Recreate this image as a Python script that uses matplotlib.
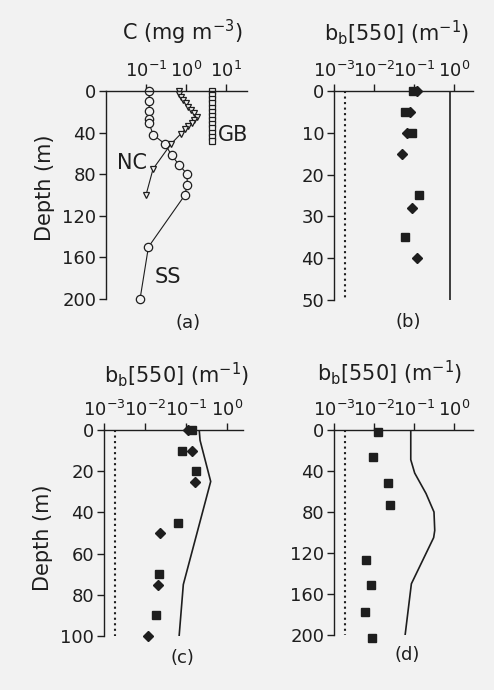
import matplotlib
matplotlib.use("Agg")
import matplotlib.pyplot as plt

# ---------------- data ----------------
# panel (a): chlorophyll profiles
ss_depth = [0, 10, 19, 27, 31, 42, 51, 62, 71, 80, 90, 100, 150, 200]
ss_chl = [0.12, 0.12, 0.12, 0.12, 0.12, 0.15, 0.30, 0.44, 0.67, 1.07, 1.07, 0.94, 0.115, 0.071]
nc_depth = [0, 3, 6, 9, 12, 15, 18, 21, 25, 28, 31, 34, 37, 41, 51, 75, 100]
nc_chl = [0.65, 0.68, 0.75, 0.85, 0.98, 1.15, 1.35, 1.55, 1.9, 1.6, 1.4, 1.15, 0.95, 0.75, 0.42, 0.15, 0.10]
gb_depth = [0, 4, 8, 12, 16, 20, 24, 28, 32, 36, 40, 44, 48]
gb_chl = [4.4] * 13

# panel (b)
b_sq_depth = [0, 5, 10, 25, 35]
b_sq_val = [0.095, 0.06, 0.09, 0.13, 0.06]
b_dia_depth = [0, 5, 10, 15, 28, 40]
b_dia_val = [0.12, 0.078, 0.067, 0.05, 0.087, 0.117]
b_line_depth = [0, 50]
b_line_val = [0.8, 0.8]
b_dot_depth = [0, 50]
b_dot_val = [0.0019, 0.0019]

# panel (c)
c_sq_depth = [0, 10, 20, 45, 70, 90]
c_sq_val = [0.138, 0.081, 0.18, 0.063, 0.022, 0.019]
c_dia_depth = [0, 10, 25, 50, 75, 100]
c_dia_val = [0.115, 0.143, 0.166, 0.023, 0.021, 0.0117]
c_line_depth = [0, 5, 25, 75, 100]
c_line_val = [0.21, 0.22, 0.40, 0.086, 0.068]
c_dot_depth = [0, 100]
c_dot_val = [0.0019, 0.0019]

# panel (d)
d_sq_depth = [2, 26, 52, 73, 127, 151, 178, 203]
d_sq_val = [0.0126, 0.0094, 0.023, 0.025, 0.0064, 0.0083, 0.006, 0.0091]
d_line_depth = [0, 29, 42, 62, 80, 98, 105, 150, 200]
d_line_val = [0.083, 0.083, 0.104, 0.2, 0.316, 0.33, 0.31, 0.086, 0.06]
d_dot_depth = [0, 200]
d_dot_val = [0.0019, 0.0019]

a_xticks = [0.1, 1, 10]
a_xticklabels = [r"$\mathregular{10^{-1}}$", r"$\mathregular{10^{0}}$", r"$\mathregular{10^{1}}$"]
bb_xticks = [0.001, 0.01, 0.1, 1]
bb_xticklabels = [r"$\mathregular{10^{-3}}$", r"$\mathregular{10^{-2}}$",
                  r"$\mathregular{10^{-1}}$", r"$\mathregular{10^{0}}$"]
a_yticks = [0, 40, 80, 120, 160, 200]
b_yticks = [0, 10, 20, 30, 40, 50]
c_yticks = [0, 20, 40, 60, 80, 100]
d_yticks = [0, 40, 80, 120, 160, 200]

# ---------------- style ----------------
W, H = 494, 690
BG = "#f2f2f2"
INK = "#1e1e1e"
plt.rcParams["font.family"] = ["DejaVu Sans"]
plt.rcParams["mathtext.fontset"] = "custom"
plt.rcParams["mathtext.rm"] = "DejaVu Sans"
plt.rcParams["text.color"] = INK

fig = plt.figure(figsize=(W / 100, H / 100), dpi=100, facecolor=BG)


def make_ax(left, top, right, bottom, xlim, ymax, xticks, xlabels, yticks):
    ax = fig.add_axes([left / W, 1 - bottom / H, (right - left) / W, (bottom - top) / H])
    ax.set_facecolor("none")
    ax.set_xscale("log")
    ax.set_xlim(*xlim)
    ax.set_ylim(ymax, 0)
    for s in ("right", "bottom"):
        ax.spines[s].set_visible(False)
    for s in ("top", "left"):
        ax.spines[s].set_linewidth(1.0)
        ax.spines[s].set_color(INK)
    ax.xaxis.tick_top()
    ax.set_xticks(xticks)
    ax.set_xticklabels(xlabels)
    ax.xaxis.set_minor_locator(matplotlib.ticker.NullLocator())
    ax.set_yticks(yticks)
    ax.tick_params(axis="x", direction="out", length=5, width=1.0, pad=2,
                   labelsize=13, colors=INK)
    ax.tick_params(axis="y", direction="out", length=5, width=1.0, pad=2,
                   labelsize=13, colors=INK)
    return ax


def px_text(x, y, s, size=15, **kw):
    fig.text(x / W, 1 - y / H, s, fontsize=size, ha="center", va="center", color=INK, **kw)


# panel (a)
axa = make_ax(106, 91, 247, 299, (0.01, 10 ** 1.525), 200, a_xticks, a_xticklabels, a_yticks)
axa.plot(ss_chl, ss_depth, "-o", color=INK, lw=0.8, ms=6, mfc=BG, mec=INK, mew=0.9, clip_on=False)
axa.plot(nc_chl, nc_depth, "-v", color=INK, lw=0.8, ms=5, mfc=BG, mec=INK, mew=0.9, clip_on=False)
axa.plot(gb_chl, gb_depth, "-s", color=INK, lw=0.8, ms=4, mfc=BG, mec=INK, mew=0.9, clip_on=False)
px_text(132, 163, "NC", 15)
px_text(233, 135, "GB", 15)
px_text(168, 277, "SS", 15)
px_text(182, 32, r"C (mg m$^{-3}$)", 15)
px_text(45, 188, "Depth (m)", 15, rotation=90)
px_text(188, 323, "(a)", 13)

# panel (b)
axb = make_ax(334, 91, 473, 300, (0.001, 10 ** 0.475), 50, bb_xticks, bb_xticklabels, b_yticks)
axb.plot(b_dot_val, b_dot_depth, ":", color=INK, lw=1.5)
axb.plot(b_line_val, b_line_depth, "-", color=INK, lw=1.2)
axb.plot(b_sq_val, b_sq_depth, "s", color=INK, ms=6, ls="none", clip_on=False)
axb.plot(b_dia_val, b_dia_depth, "D", color=INK, ms=5.5, ls="none", clip_on=False)
px_text(397, 33, r"b$_\mathregular{b}$[550] (m$^{-1}$)", 15)
px_text(408, 322, "(b)", 13)

# panel (c)
axc = make_ax(104, 430, 243, 636, (0.001, 10 ** 0.39), 100, bb_xticks, bb_xticklabels, c_yticks)
axc.plot(c_dot_val, c_dot_depth, ":", color=INK, lw=1.5)
axc.plot(c_line_val, c_line_depth, "-", color=INK, lw=1.2)
axc.plot(c_sq_val, c_sq_depth, "s", color=INK, ms=6, ls="none", clip_on=False)
axc.plot(c_dia_val, c_dia_depth, "D", color=INK, ms=5.5, ls="none", clip_on=False)
px_text(177, 375, r"b$_\mathregular{b}$[550] (m$^{-1}$)", 15)
px_text(43, 538, "Depth (m)", 15, rotation=90)
px_text(182, 658, "(c)", 13)

# panel (d)
axd = make_ax(334, 430, 473, 635, (0.001, 10 ** 0.475), 200, bb_xticks, bb_xticklabels, d_yticks)
axd.plot(d_dot_val, d_dot_depth, ":", color=INK, lw=1.5)
axd.plot(d_line_val, d_line_depth, "-", color=INK, lw=1.2)
axd.plot(d_sq_val, d_sq_depth, "s", color=INK, ms=6, ls="none", clip_on=False)
px_text(390, 373, r"b$_\mathregular{b}$[550] (m$^{-1}$)", 15)
px_text(407, 655, "(d)", 13)

fig.savefig("out.png", dpi=100, facecolor=BG)
